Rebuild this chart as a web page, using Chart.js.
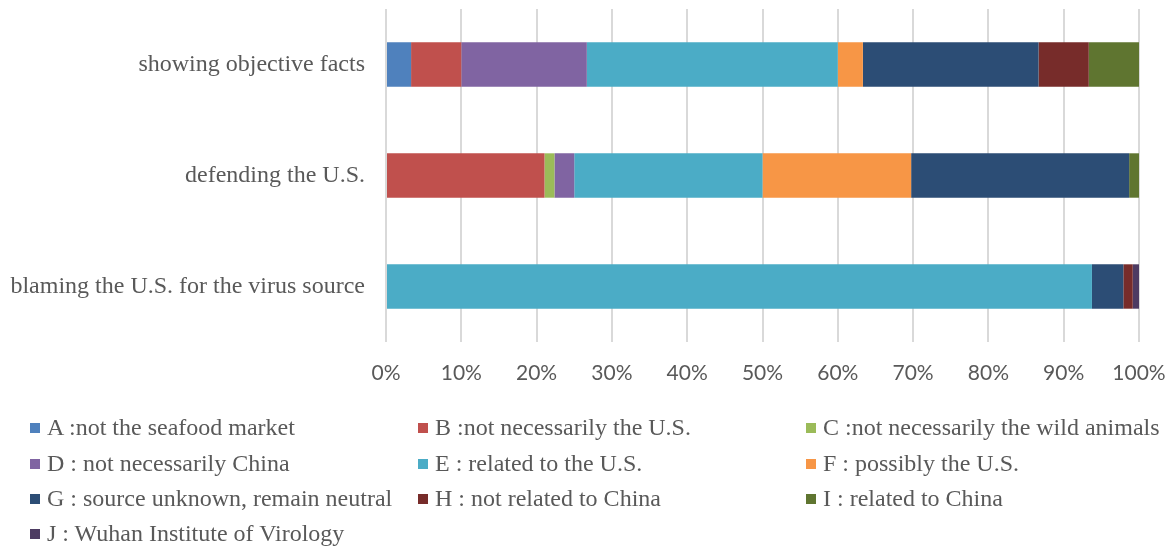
<!DOCTYPE html>
<html>
<head>
<meta charset="utf-8">
<script src="https://cdn.jsdelivr.net/npm/chart.js@4"></script>
<style>
    body { margin: 0; background: #fff; }
    #wrap { position: relative; width: 1173px; height: 547px; }
    #chartBox { position: absolute; left: 0; top: 0; width: 1173px; height: 395px; }
    #legend { position: absolute; left: 0; top: 0; width: 1173px; height: 547px; pointer-events: none; }
    .item {
        position: absolute; height: 28px; line-height: 28px; white-space: nowrap;
        font-family: "Liberation Serif", "Times New Roman", serif; font-size: 24px; color: #595959;
    }
    .item span.box { display: inline-block; width: 10px; height: 10px; margin-right: 7px; vertical-align: 2px; }
</style>
</head>
<body>
<div id="wrap">
    <div id="chartBox"><canvas id="chart"></canvas></div>
    <div id="legend"></div>
</div>
<script>
const categories = ['showing objective facts', 'defending the U.S.', 'blaming the U.S. for the virus source'];

const seriesNames = [
    'A :not the seafood market',
    'B :not necessarily the U.S.',
    'C :not necessarily the wild animals',
    'D : not necessarily China',
    'E : related to the U.S.',
    'F : possibly the U.S.',
    'G : source unknown, remain neutral',
    'H : not related to China',
    'I : related to China',
    'J : Wuhan Institute of Virology'
];

// percent of each category
const valuesA = [3.33, 0, 0];
const valuesB = [6.67, 21.05, 0];
const valuesC = [0, 1.32, 0];
const valuesD = [16.67, 2.63, 0];
const valuesE = [33.33, 25.0, 93.75];
const valuesF = [3.33, 19.74, 0];
const valuesG = [23.33, 28.95, 4.17];
const valuesH = [6.67, 0, 1.25];
const valuesI = [6.67, 1.32, 0];
const valuesJ = [0, 0, 0.83];

const xTicks = [0, 10, 20, 30, 40, 50, 60, 70, 80, 90, 100];

const colors = ['#4F81BD', '#C0504D', '#9BBB59', '#8064A2', '#4BACC6',
                '#F79646', '#2C4D75', '#772C2A', '#5F7530', '#4D3B62'];

const allValues = [valuesA, valuesB, valuesC, valuesD, valuesE, valuesF, valuesG, valuesH, valuesI, valuesJ];

const datasets = allValues.map((vals, i) => ({
    label: seriesNames[i],
    data: vals,
    backgroundColor: colors[i],
    borderWidth: 0,
    categoryPercentage: 0.4,
    barPercentage: 1.0
}));

const chart = new Chart(document.getElementById('chart'), {
    type: 'bar',
    data: { labels: categories, datasets: datasets },
    options: {
        indexAxis: 'y',
        responsive: true,
        maintainAspectRatio: false,
        animation: false,
        layout: { padding: { top: 9, right: 34, left: 0, bottom: 0 } },
        scales: {
            x: {
                stacked: true,
                min: 0,
                max: 100,
                afterBuildTicks: (axis) => { axis.ticks = xTicks.map(v => ({ value: v })); },
                afterFit: (axis) => {
                    axis.height = 53;
                    // labels may overhang, the plot edges stay fixed
                    axis.paddingLeft = 0;
                    axis.paddingRight = 0;
                },
                border: { display: false },
                grid: { color: '#d9d9d9', lineWidth: 2, drawTicks: false },
                ticks: {
                    padding: 19,
                    color: '#595959',
                    font: { family: 'Lato, "Open Sans", sans-serif', size: 21 },
                    callback: (v) => v + '%'
                }
            },
            y: {
                stacked: true,
                afterFit: (axis) => {
                    axis.width = 386;
                    axis.paddingTop = 0;
                    axis.paddingBottom = 0;
                },
                border: { display: false },
                grid: { display: false, drawTicks: false },
                ticks: {
                    padding: 21,
                    color: '#595959',
                    font: { family: '"Liberation Serif", "Times New Roman", serif', size: 24 }
                }
            }
        },
        plugins: {
            legend: { display: false },
            tooltip: { enabled: false }
        }
    }
});

// legend in three columns, Excel style
const legendEl = document.getElementById('legend');
const colX = [30, 418, 806];
const rowY = [427, 463, 498, 533];
chart.data.datasets.forEach((ds, i) => {
    const div = document.createElement('div');
    div.className = 'item';
    div.style.left = colX[i % 3] + 'px';
    div.style.top = (rowY[Math.floor(i / 3)] - 14) + 'px';
    div.innerHTML = '<span class="box" style="background:' + ds.backgroundColor + '"></span>' + ds.label;
    legendEl.appendChild(div);
});
</script>
</body>
</html>
